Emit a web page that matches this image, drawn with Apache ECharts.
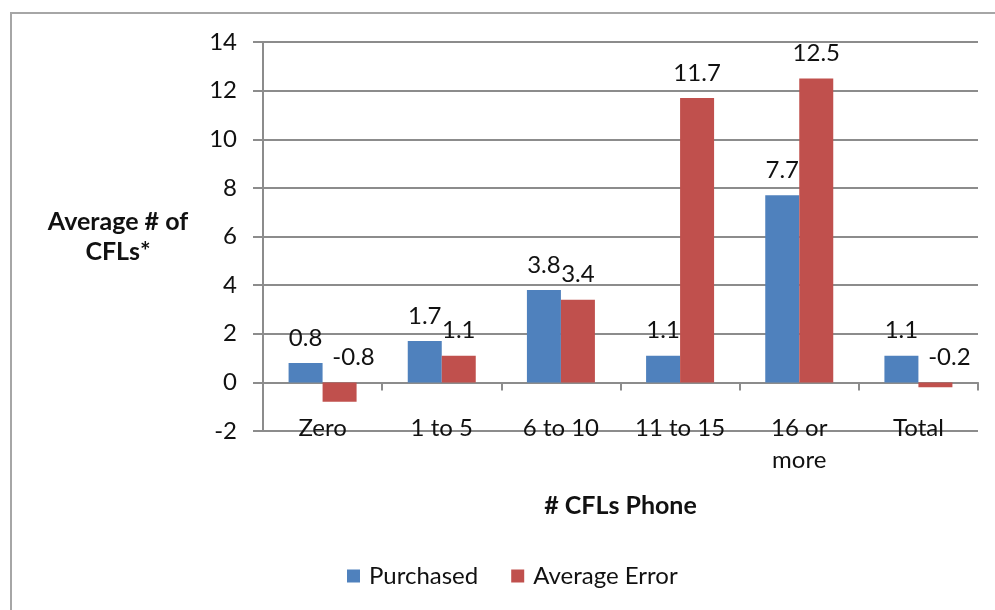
<!DOCTYPE html>
<html>
<head>
<meta charset="utf-8">
<script src="https://cdn.jsdelivr.net/npm/echarts@6/dist/echarts.min.js"></script>
<style>
  html, body { margin: 0; padding: 0; background: #fff; }
  #chart { width: 995px; height: 610px; }
</style>
</head>
<body>
<div id="chart"></div>
<script>
// Number of CFLs reported on the phone survey
const categories = ['Zero', '1 to 5', '6 to 10', '11 to 15', '16 or\nmore', 'Total'];
const purchased = [0.8, 1.7, 3.8, 1.1, 7.7, 1.1];
const averageError = [-0.8, 1.1, 3.4, 11.7, 12.5, -0.2];
const yTicks = { min: -2, max: 14, step: 2 };

const FONT = 'Lato, "Open Sans", sans-serif';
const TEXT = '#111';
const GRID = '#8c8c8c';

// negative values get their label nudged right, as the minus sign widens it
function withLabels(values) {
  return values.map(v => ({
    value: v,
    label: v < 0 ? { offset: [14, 0] } : {}
  }));
}

const barLabel = {
  show: true,
  position: 'top',
  distance: 13,
  fontFamily: FONT,
  fontSize: 24,
  color: TEXT
};

const chart = echarts.init(document.getElementById('chart'), null, { renderer: 'canvas' });

chart.setOption({
  animation: false,
  backgroundColor: '#fff',
  graphic: [{
    type: 'rect',
    shape: { x: 11, y: 13, width: 1100, height: 700 },
    style: { fill: 'none', stroke: '#a6a6a6', lineWidth: 2 },
    silent: true,
    z: -1
  }],
  grid: { left: 263, right: 17, top: 42, bottom: 179, containLabel: false },
  legend: {
    bottom: 17,
    left: 342,
    itemWidth: 13,
    itemHeight: 13,
    itemGap: 33,
    icon: 'rect',
    textStyle: { fontFamily: FONT, fontSize: 24, color: TEXT, padding: [0, 0, 0, 4] },
    data: ['Purchased', 'Average Error']
  },
  xAxis: [{
    type: 'category',
    data: categories,
    axisLine: { onZero: true, lineStyle: { color: GRID, width: 2 } },
    axisTick: { show: true, length: 8, inside: false, lineStyle: { color: GRID, width: 2 } },
    axisLabel: { show: false },
    splitLine: { show: false }
  }, {
    type: 'category',
    data: categories,
    position: 'bottom',
    axisLine: { show: false, onZero: false },
    axisTick: { show: false },
    axisLabel: {
      margin: -19,
      fontFamily: FONT,
      fontSize: 24,
      color: TEXT,
      lineHeight: 32,
      verticalAlign: 'top'
    },
    name: '# CFLs Phone',
    nameLocation: 'middle',
    nameGap: 62,
    nameTextStyle: { fontFamily: FONT, fontSize: 25, fontWeight: 'bold', color: TEXT }
  }],
  yAxis: {
    type: 'value',
    min: yTicks.min,
    max: yTicks.max,
    interval: yTicks.step,
    axisLine: { show: true, lineStyle: { color: GRID, width: 2 } },
    axisTick: { show: true, length: 10, lineStyle: { color: GRID, width: 2 } },
    axisLabel: { margin: 26, fontFamily: FONT, fontSize: 24, color: TEXT },
    splitLine: { show: true, lineStyle: { color: GRID, width: 2 } },
    name: 'Average # of\nCFLs*',
    nameLocation: 'middle',
    nameRotate: 0,
    nameGap: 145,
    nameTextStyle: {
      fontFamily: FONT, fontSize: 25, fontWeight: 'bold', color: TEXT,
      align: 'center', verticalAlign: 'middle', lineHeight: 30
    }
  },
  series: [{
    name: 'Purchased',
    type: 'bar',
    xAxisIndex: 0,
    data: withLabels(purchased),
    barWidth: 34,
    barGap: '0%',
    itemStyle: { color: '#4f81bd' },
    label: barLabel
  }, {
    name: 'Average Error',
    type: 'bar',
    xAxisIndex: 0,
    data: withLabels(averageError),
    barWidth: 34,
    barGap: '0%',
    itemStyle: { color: '#c0504d' },
    label: barLabel
  }]
});
</script>
</body>
</html>
